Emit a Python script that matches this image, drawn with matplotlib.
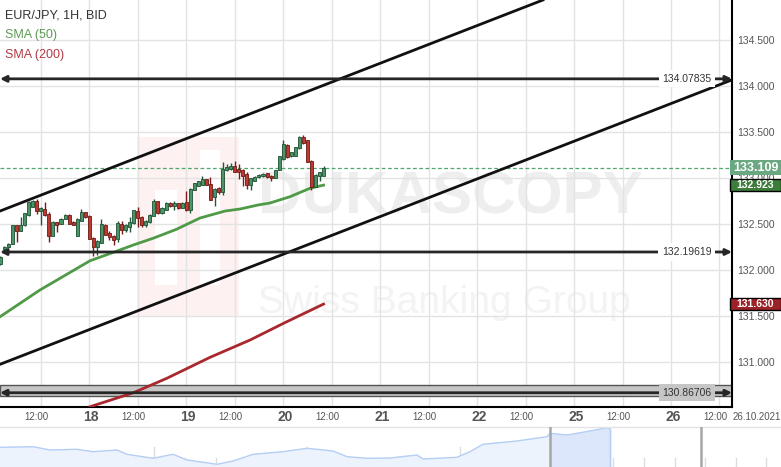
import numpy as np
import matplotlib
matplotlib.use('Agg')
import matplotlib.pyplot as plt
from matplotlib.patches import Rectangle
from matplotlib.transforms import blended_transform_factory

# ---------------- data (hour 0 = 18 Oct 2021 00:00, trading hours, weekend skipped) ----------------
first_candle_hour = -22
open_ = [132.067, 132.226, 132.248, 132.284, 132.484, 132.429, 132.484, 132.603, 132.683, 132.755,
         132.640, 132.665, 132.610, 132.375, 132.520, 132.502, 132.556, 132.600, 132.527, 132.375,
         132.531, 132.629, 132.592, 132.346, 132.248, 132.295, 132.491, 132.404, 132.375, 132.339,
         132.502, 132.437, 132.466, 132.509, 132.640, 132.574, 132.484, 132.520, 132.592, 132.748,
         132.618, 132.654, 132.730, 132.701, 132.726, 132.676, 132.737, 132.647, 132.871, 132.918,
         132.925, 132.984, 132.937, 132.799, 132.889, 132.846, 133.089, 133.100, 133.129, 133.100,
         133.082, 133.045, 132.926, 132.973, 133.009, 133.020, 133.052, 133.027, 133.002, 133.089,
         133.208, 133.364, 133.234, 133.244, 133.324, 133.444, 133.408, 133.190, 132.907, 133.020,
         133.027]
high = [132.150, 132.262, 132.290, 132.490, 132.490, 132.574, 132.620, 132.755, 132.760, 132.773,
        132.683, 132.737, 132.628, 132.530, 132.527, 132.560, 132.605, 132.605, 132.530, 132.560,
        132.665, 132.632, 132.600, 132.357, 132.321, 132.556, 132.495, 132.429, 132.380, 132.531,
        132.531, 132.495, 132.574, 132.650, 132.683, 132.592, 132.545, 132.610, 132.773, 132.755,
        132.680, 132.735, 132.740, 132.755, 132.730, 132.735, 132.864, 132.890, 132.950, 132.970,
        133.027, 132.990, 133.009, 132.890, 132.900, 133.170, 133.150, 133.160, 133.180, 133.147,
        133.100, 133.063, 133.000, 133.020, 133.045, 133.050, 133.055, 133.030, 133.090, 133.240,
        133.408, 133.370, 133.285, 133.340, 133.462, 133.469, 133.410, 133.195, 133.040, 133.065,
        133.129]
low = [132.050, 132.220, 132.244, 132.280, 132.303, 132.425, 132.480, 132.592, 132.680, 132.610,
       132.491, 132.592, 132.303, 132.370, 132.411, 132.500, 132.550, 132.500, 132.490, 132.370,
       132.530, 132.570, 132.335, 132.147, 132.158, 132.290, 132.380, 132.321, 132.277, 132.303,
       132.393, 132.411, 132.411, 132.500, 132.466, 132.466, 132.466, 132.515, 132.590, 132.610,
       132.610, 132.650, 132.690, 132.654, 132.660, 132.670, 132.640, 132.618, 132.865, 132.910,
       132.920, 132.920, 132.760, 132.701, 132.830, 132.810, 133.080, 133.090, 133.060, 132.991,
       132.918, 132.882, 132.875, 132.970, 133.000, 133.015, 133.005, 132.973, 133.000, 133.085,
       133.200, 133.220, 133.230, 133.240, 133.320, 133.370, 133.175, 132.875, 132.900, 132.973,
       133.020]
close = [132.140, 132.255, 132.284, 132.484, 132.429, 132.491, 132.618, 132.737, 132.748, 132.640,
         132.676, 132.603, 132.375, 132.527, 132.491, 132.556, 132.600, 132.502, 132.491, 132.556,
         132.636, 132.574, 132.339, 132.248, 132.310, 132.502, 132.382, 132.357, 132.328, 132.509,
         132.437, 132.484, 132.527, 132.647, 132.567, 132.484, 132.538, 132.603, 132.748, 132.618,
         132.676, 132.730, 132.701, 132.726, 132.672, 132.730, 132.647, 132.882, 132.947, 132.965,
         132.991, 132.925, 132.763, 132.882, 132.846, 133.100, 133.118, 133.129, 133.063, 133.063,
         133.027, 132.926, 132.998, 133.016, 133.038, 133.045, 133.009, 132.998, 133.089, 133.234,
         133.371, 133.226, 133.281, 133.335, 133.444, 133.382, 133.179, 132.900, 133.034, 133.063,
         133.109]

sma50_hours = [-22.1, -12.2, 0.2, 6.4, 10.9, 15.8, 21.6, 27.4, 33.6, 37.3, 41.8, 44.7, 49.7, 54.6, 58.0]
sma50_values = [131.492, 131.783, 132.101, 132.199, 132.272, 132.345, 132.443, 132.565, 132.641,
                132.663, 132.707, 132.728, 132.797, 132.888, 132.923]
sma200_hours = [0.2, 10.9, 19.2, 29.9, 39.8, 48.1, 58.0]
sma200_values = [130.514, 130.666, 130.823, 131.051, 131.239, 131.421, 131.630]

channel_upper_hours = [-22.1, 112.3]
channel_upper_prices = [132.641, 134.935]
channel_lower_hours = [-22.1, 159.1]
channel_lower_prices = [130.975, 134.067]

level_labels = ["134.07835", "132.19619", "130.86706"]
level_line_prices = [134.078, 132.196, 130.666]
zone_low, zone_high = 130.630, 130.745

last_price = 133.109
sma50_last = 132.923
sma200_last = 131.630

yticks = [131.0, 131.5, 132.0, 132.5, 133.0, 133.5, 134.0, 134.5]
grid_hours = [-12, 0, 12, 24, 36, 48, 60, 72, 84, 96, 108, 120, 132, 144, 156]
xtick_labels = ["12:00", "18", "12:00", "19", "12:00", "20", "12:00", "21", "12:00", "22",
                "12:00", "25", "12:00", "26", "12:00"]

# navigator (overview) series, read in navigator pixel units
nav_x = [0, 33, 50, 77, 93, 117, 127, 153, 173, 187, 217, 233, 253, 283, 307, 333, 347, 367,
         390, 417, 423, 457, 470, 483, 517, 547, 550, 567, 590, 607, 610]
nav_h = [19.7, 20.3, 17.0, 17.7, 15.3, 17.0, 12.7, 8.7, 12.7, 7.0, 2.7, 6.0, 12.7, 15.3, 18.7,
         16.0, 10.3, 8.7, 9.0, 12.0, 8.0, 9.7, 15.3, 22.7, 26.0, 30.3, 33.7, 32.0, 36.0, 39.3, 38.0]

# ---------------- figure ----------------
W, H = 781, 467
FONT = ['Liberation Sans', 'DejaVu Sans']
plt.rcParams['font.family'] = FONT
fig = plt.figure(figsize=(W / 100, H / 100), dpi=100)
fig.patch.set_facecolor('white')

# watermark layer (pixel coordinates)
wm = fig.add_axes([0, 0, 1, 1])
wm.set_xlim(0, W)
wm.set_ylim(H, 0)
wm.axis('off')
wm.set_zorder(0)
pink = '#fdf1f1'
wm.add_patch(Rectangle((137, 137), 102, 180, facecolor=pink, edgecolor='none'))
wm.add_patch(Rectangle((155, 190), 22, 95, facecolor='white', edgecolor='none'))
wm.add_patch(Rectangle((200, 150), 20, 135, facecolor='white', edgecolor='none'))
t1 = wm.text(450, 198, "DUKASCOPY", ha='center', va='center', fontsize=60,
             fontweight='bold', color='#eeeeee', family=['Liberation Sans'])
t2 = wm.text(444, 313, "Swiss Banking Group", ha='center', va='baseline', fontsize=40,
             color='#f3f3f3', family=['Liberation Sans'])

fig.canvas.draw()
r = fig.canvas.get_renderer()
for t, tw in ((t1, 385), (t2, 372)):
    bb = t.get_window_extent(renderer=r)
    t.set_fontsize(t.get_fontsize() * tw / bb.width)

# main price axes
ax = fig.add_axes([0, 60 / H, 732 / W, 407 / H])
ax.set_zorder(1)
ax.patch.set_alpha(0)
ax.set_xlim(-22.1, 159.1)
ax.set_ylim(130.511, 134.935)

ax.set_yticks(yticks)
ax.set_yticklabels([f"{v:.3f}" for v in yticks])
ax.yaxis.tick_right()
ax.tick_params(axis='y', length=0, pad=4, labelsize=7.5, labelcolor='#555555')

# grid on minor ticks, labels on major ticks (labels sit slightly off the grid, as in the source)
ax.set_xticks(grid_hours, minor=True)
label_pos = [g - 1.0 if ':' in s else g + 0.5 for g, s in zip(grid_hours, xtick_labels)]
ax.set_xticks(label_pos)
ax.set_xticklabels(xtick_labels)
ax.tick_params(axis='x', which='both', length=0, pad=7, labelcolor='#555555')
for lab in ax.get_xticklabels():
    lab.set_va('center')
    if ':' in lab.get_text():
        lab.set_fontsize(7)
    else:
        lab.set_fontsize(10)
        lab.set_fontweight('bold')
ax.set_axisbelow(True)
ax.grid(True, which='minor', axis='x', color='#e3e3e3', lw=1)
ax.grid(True, which='major', axis='y', color='#e3e3e3', lw=1)
ax.grid(False, which='major', axis='x')
for s in ('left', 'top'):
    ax.spines[s].set_visible(False)
for s in ('right', 'bottom'):
    ax.spines[s].set_color('black')
    ax.spines[s].set_linewidth(1.5)

# zone + level lines
ax.axhspan(zone_low, zone_high, facecolor='#c6c6c6', edgecolor='#555555', lw=1, zorder=1)
x0, x1 = ax.get_xlim()
for lab, p in zip(level_labels, level_line_prices):
    ax.annotate('', xy=(x1, p), xytext=(x0, p),
                arrowprops=dict(arrowstyle='<|-|>', color='#262626', lw=2,
                                mutation_scale=9, shrinkA=0, shrinkB=0), zorder=6)
    bg = '#c6c6c6' if p < 131 else 'white'
    ax.text(147.9, p, lab, ha='center', va='center', fontsize=7.5, color='#333333', zorder=7,
            bbox=dict(facecolor=bg, edgecolor='none', boxstyle='square,pad=0.35'))

# channel lines
ax.axline((channel_upper_hours[0], channel_upper_prices[0]),
          (channel_upper_hours[1], channel_upper_prices[1]), color='#111111', lw=2, zorder=5)
ax.axline((channel_lower_hours[0], channel_lower_prices[0]),
          (channel_lower_hours[1], channel_lower_prices[1]), color='#111111', lw=2, zorder=5)

# current price line
ax.axhline(last_price, color='#4ea86e', lw=0.9, ls=(0, (3, 2)), zorder=3)

# SMAs
ax.plot(sma50_hours, sma50_values, color='#4f9a46', lw=2, zorder=4)
ax.plot(sma200_hours, sma200_values, color='#a8282e', lw=2, zorder=4)

# candles
o = np.array(open_); h = np.array(high); l = np.array(low); c = np.array(close)
xs = np.arange(len(o)) + first_candle_hour
up = c >= o
wick_col = np.where(up, '#24583a', '#7a1c1c')
fill_col = np.where(up, '#4b9468', '#c0392f')
edge_col = np.where(up, '#1f4f33', '#6b1a16')
ax.vlines(xs, l, h, colors=wick_col, lw=1, zorder=5)
ax.bar(xs, np.maximum(np.abs(c - o), 0.008), bottom=np.minimum(o, c), width=0.75,
       color=fill_col, edgecolor=edge_col, lw=0.6, zorder=6)

# right-side value boxes
bt = blended_transform_factory(fig.transFigure, ax.transData)
ppx = (134.935 - 130.511) / 407.0
boxes = [(last_price, '#6aa882', None, 15, 9.0),
         (sma50_last, '#3d7d3a', 'black', 12, 7.5),
         (sma200_last, '#9b2226', 'black', 12, 7.5)]
for val, fc, ec, hpx, fs in boxes:
    ax.add_patch(Rectangle((730 / W, val - hpx / 2 * ppx), 50.5 / W, hpx * ppx, transform=bt,
                           facecolor=fc, edgecolor=ec if ec else 'none', lw=1,
                           clip_on=False, zorder=8))
    ax.text(755.5 / W, val, f"{val:.3f}", transform=bt, ha='center', va='center',
            fontsize=fs, fontweight='bold', color='white', zorder=9, clip_on=False)

# legend texts
fig.text(5 / W, 1 - 15 / H, "EUR/JPY, 1H, BID", fontsize=9, color='#333333', va='center')
fig.text(5 / W, 1 - 35 / H, "SMA (50)", fontsize=9, color='#5c9c52', va='center')
fig.text(5 / W, 1 - 55 / H, "SMA (200)", fontsize=9, color='#b33a44', va='center')
fig.text(757 / W, 1 - 417 / H, "26.10.2021", fontsize=7, color='#555555', ha='center', va='center')

# navigator
nav = fig.add_axes([0, 0, 1, 40 / H])
nav.set_xlim(0, W)
nav.set_ylim(0, 40)
nav.axis('off')
nx = np.array(nav_x, dtype=float); nh = np.array(nav_h)
for tx in np.arange(32, 781, 30.6):
    nav.plot([tx, tx], [0, 9], color='#dddddd', lw=1, zorder=1)
for tx in (154, 307, 460):
    nav.plot([tx, tx], [0, 20], color='#dddddd', lw=1, zorder=1)
nav.fill_between(nx, 0, nh, color='#edf3fd', zorder=2)
sel = nx >= 550
nav.fill_between(nx[sel], 0, nh[sel], color='#dce7fb', zorder=3)
nav.plot(nx, nh, color='#b5cef3', lw=1, zorder=4)
nav.plot([nx[-1], nx[-1]], [0, nh[-1]], color='#b5cef3', lw=1, zorder=4)
nav.plot([0, W], [40, 40], color='#e4e4e4', lw=1, clip_on=False, zorder=4)
for hx in (550, 701):
    nav.plot([hx, hx], [0, 40], color='#a6a6a6', lw=1.8, zorder=5)

fig.savefig('out.png', dpi=100)
